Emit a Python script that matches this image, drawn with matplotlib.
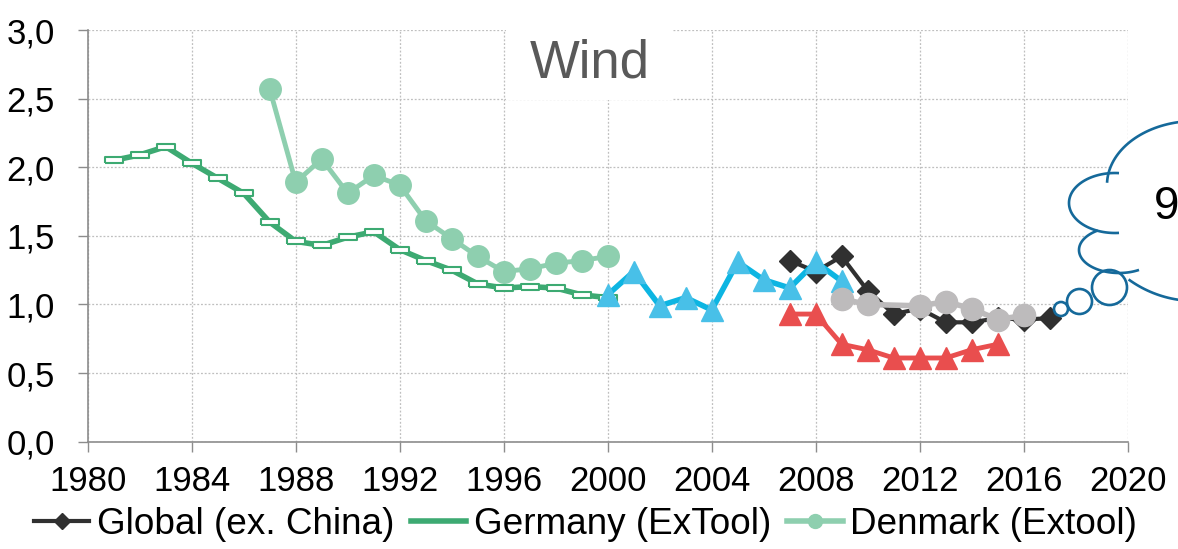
import numpy as np
import matplotlib
matplotlib.use("Agg")
import matplotlib.pyplot as plt
from matplotlib.lines import Line2D
from matplotlib.patches import Rectangle, Circle

plt.rcParams['font.family'] = ['Liberation Sans', 'DejaVu Sans']

# ---- data ----
germany_years = list(range(1981, 2001))
germany_vals = [2.05, 2.09, 2.15, 2.03, 1.92, 1.81, 1.60, 1.46, 1.43, 1.49,
                1.53, 1.40, 1.32, 1.25, 1.15, 1.12, 1.13, 1.12, 1.07, 1.05]

denmark_years = list(range(1987, 2001))
denmark_vals = [2.57, 1.89, 2.06, 1.81, 1.94, 1.87, 1.61, 1.48, 1.35, 1.24,
                1.26, 1.30, 1.32, 1.35]

global_years = list(range(2007, 2018))
global_vals = [1.32, 1.24, 1.35, 1.10, 0.93, 0.97, 0.87, 0.87, 0.90, 0.89, 0.90]

blue_years = list(range(2000, 2010))
blue_vals = [1.07, 1.24, 0.99, 1.05, 0.96, 1.31, 1.18, 1.12, 1.31, 1.17]

red_years = list(range(2007, 2016))
red_vals = [0.93, 0.93, 0.71, 0.67, 0.61, 0.61, 0.61, 0.67, 0.71]

grey_years = [2009, 2010, 2012, 2013, 2014, 2015, 2016]
grey_vals = [1.04, 1.00, 0.99, 1.02, 0.97, 0.89, 0.92]

x_ticks = list(range(1980, 2021, 4))
y_ticks = [0.0, 0.5, 1.0, 1.5, 2.0, 2.5, 3.0]
y_tick_labels = ['0,0', '0,5', '1,0', '1,5', '2,0', '2,5', '3,0']

legend_labels = ['Global (ex. China)', 'Germany (ExTool)', 'Denmark (Extool)']

c_global = '#303030'
c_germany = '#3DAA72'
c_denmark = '#8ECFAF'
c_blue_line = '#0DB5E2'
c_blue_mk = '#48C0E8'
c_red = '#E94E4E'
c_grey = '#BDBBBC'
c_cloud = '#15699A'

W, H = 1178, 549
fig = plt.figure(figsize=(W / 100, H / 100), dpi=100)
ax = fig.add_axes([87.7 / W, 107.3 / H, 1040 / W, 411.7 / H])

rect_marker = [(-1, -0.33), (1, -0.33), (1, 0.33), (-1, 0.33), (-1, -0.33)]

ax.plot(germany_years, germany_vals, color=c_germany, lw=4, marker=rect_marker,
        ms=13, mfc='white', mec=c_germany, mew=1.5, zorder=3)
ax.plot(denmark_years, denmark_vals, color=c_denmark, lw=3.5, marker='o',
        ms=15.5, zorder=3)
ax.plot(global_years, global_vals, color=c_global, lw=3, marker='D',
        ms=11.5, zorder=4)
ax.plot(red_years, red_vals, color=c_red, lw=3.5, marker='^', ms=16, zorder=4)
ax.plot(blue_years, blue_vals, color=c_blue_line, lw=4, marker='^', ms=16,
        mfc=c_blue_mk, mec=c_blue_mk, zorder=5)
ax.plot(grey_years, grey_vals, color=c_grey, lw=4, marker='o', ms=16, zorder=6)

ax.set_xlim(1980, 2020)
ax.set_ylim(0, 3.0)
ax.set_xticks(x_ticks)
ax.set_yticks(y_ticks)
ax.set_yticklabels(y_tick_labels)
ax.tick_params(axis='x', labelsize=25, length=7.5, width=1, color='#8C8C8C', pad=9)
ax.tick_params(axis='y', labelsize=25, length=7.5, width=1, color='#8C8C8C', pad=16)
ax.grid(True, color='#BFBFBF', linestyle=(0, (1.5, 1.5)), lw=0.9)
ax.set_axisbelow(True)
for s in ['top', 'right']:
    ax.spines[s].set_visible(False)
for s in ['left', 'bottom']:
    ax.spines[s].set_color('#8C8C8C')
    ax.spines[s].set_linewidth(1.2)

# ---- overlay in pixel coordinates for the title box and the thought cloud ----
ov = fig.add_axes([0, 0, 1, 1])
ov.set_xlim(0, W)
ov.set_ylim(H, 0)
ov.axis('off')

ov.add_patch(Rectangle((506, 26), 167, 74, facecolor='white', edgecolor='none'))
ov.text(590, 63, 'Wind', fontsize=38, color='#595959', ha='center', va='center')


def arc(cx, cy, rx, ry, t0, t1, n=80):
    t = np.radians(np.linspace(t0, t1, n))
    return cx + rx * np.cos(t), cy - ry * np.sin(t)


lobes = [
    (1195, 185, 88, 64, 0, 178),
    (1115, 203, 46, 30, 85, 275),
    (1119, 250, 40, 23, 122, 300),
    (1195, 188, 113, 113, 234, 360),
]
px, py = [], []
for lb in lobes:
    x, y = arc(*lb)
    px += list(x)
    py += list(y)
ov.fill(px, py, color='white', zorder=1)

for (cx, cy, r) in [(1061, 309, 7), (1079.5, 301.5, 12.5), (1109.5, 287.5, 17.5)]:
    ov.add_patch(Circle((cx, cy), r, facecolor='white', edgecolor=c_cloud,
                        lw=1.9, zorder=2))

for lb in lobes:
    x, y = arc(*lb)
    ov.plot(x, y, color=c_cloud, lw=1.9, zorder=3, solid_capstyle='butt')

ov.text(1154, 207, '9', fontsize=33, color='black', ha='left', va='center',
        zorder=4)

# ---- legend (only the visible part) ----
handles = [
    Line2D([], [], color=c_global, lw=3, marker='D', ms=8),
    Line2D([], [], color=c_germany, lw=4),
    Line2D([], [], color=c_denmark, lw=4, marker='o', ms=10),
]
fig.legend(handles, legend_labels, loc='center left',
           bbox_to_anchor=(34 / W, 25 / H), ncol=3, frameon=False, fontsize=26.6,
           handlelength=1.5, handletextpad=0.2, columnspacing=0.45,
           borderaxespad=0, borderpad=0)

fig.savefig('out.png', dpi=100)
plt.close()
